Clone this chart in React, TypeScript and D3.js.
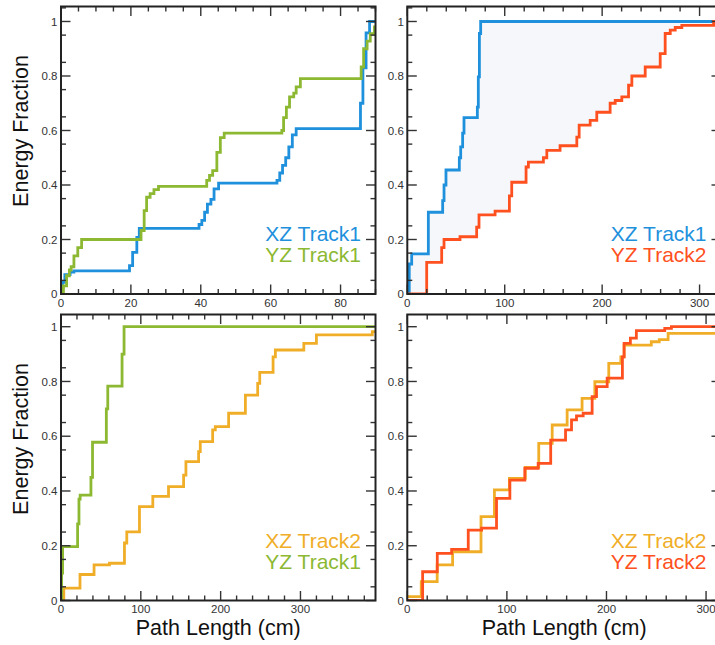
import React from "react";
import * as d3 from "d3";

const FONT = '"Liberation Sans", Arial, Helvetica, sans-serif';

const BLUE = "#1e90dc";
const GREEN = "#8cb832";
const RED = "#ff5020";
const ORANGE = "#f0ae28";
const BAND = "#f5f7fa";

// Cumulative energy fraction vs. path length (cm), step series
const tlXZ1Len = [0, 0.4, 1.1, 2.6, 3.7, 19.6, 20.5, 21.7, 22.4, 39.5, 40.3, 41.1, 41.9, 42.9, 43.8, 45.1, 61.8, 62.6, 63.4, 64.3, 65.2, 66.2, 67.3, 85.7, 86.4, 87.3, 88.3, 90];
const tlXZ1Frac = [0, 0.043, 0.071, 0.08, 0.085, 0.104, 0.153, 0.208, 0.241, 0.255, 0.27, 0.3, 0.33, 0.347, 0.386, 0.407, 0.417, 0.444, 0.472, 0.5, 0.54, 0.584, 0.607, 0.7, 0.83, 0.958, 1.0, 1.0];

const tlYZ1Len = [0, 0.7, 1.6, 2.4, 2.9, 3.7, 4.8, 5.9, 22.9, 23.8, 24.5, 25.5, 26.6, 27.9, 41.7, 42.5, 43.4, 44.6, 45.6, 46.7, 63.2, 63.7, 64.5, 65.4, 66.6, 67.3, 68.5, 85.9, 86.6, 87.6, 88.5, 89.7, 90];
const tlYZ1Frac = [0, 0.03, 0.067, 0.088, 0.1, 0.14, 0.17, 0.2, 0.233, 0.306, 0.355, 0.368, 0.383, 0.395, 0.417, 0.435, 0.453, 0.52, 0.574, 0.59, 0.6, 0.647, 0.686, 0.723, 0.737, 0.76, 0.79, 0.833, 0.9, 0.928, 0.955, 0.98, 0.98];

const trXZ1Len = [0, 2, 4.5, 21.6, 36.3, 37.7, 39.7, 53.4, 54.8, 56.8, 58.2, 71.9, 72.9, 74, 75.3, 322];
const trXZ1Frac = [0, 0.11, 0.147, 0.3, 0.343, 0.4, 0.455, 0.5, 0.54, 0.59, 0.647, 0.686, 0.797, 0.956, 1.0, 1.0];

const trYZ2Len = [0, 19.9, 35.3, 37.7, 54.1, 71.2, 73.6, 90.1, 104.8, 107.2, 121.9, 124.3, 139.7, 143.2, 156.8, 174, 176.4, 187.7, 194.5, 208.2, 213.4, 220.2, 227.1, 230.5, 244.2, 259.6, 264.7, 269.9, 275, 281.8, 314.4, 322];
const trYZ2Frac = [0, 0.116, 0.17, 0.2, 0.21, 0.245, 0.29, 0.304, 0.36, 0.41, 0.466, 0.484, 0.5, 0.527, 0.544, 0.576, 0.62, 0.637, 0.667, 0.7, 0.71, 0.723, 0.766, 0.8, 0.833, 0.882, 0.956, 0.968, 0.978, 0.986, 1.0, 1.0];

const blXZ2Len = [0, 3.5, 23.8, 41.4, 60.7, 79.5, 82.4, 98.3, 115, 134.7, 153.6, 156.5, 172.4, 174.5, 190, 193.3, 210, 231, 246.4, 249, 265.7, 268.6, 304.2, 320, 390, 395];
const blXZ2Frac = [0, 0.045, 0.095, 0.13, 0.136, 0.21, 0.251, 0.343, 0.38, 0.416, 0.458, 0.507, 0.544, 0.58, 0.623, 0.635, 0.684, 0.75, 0.793, 0.833, 0.89, 0.915, 0.939, 0.97, 0.982, 0.982];

const blYZ1Len = [0, 0.8, 2, 20.8, 22.5, 24, 37.5, 39.5, 56.8, 58.6, 76.5, 79, 395];
const blYZ1Frac = [0, 0.1, 0.197, 0.28, 0.37, 0.385, 0.45, 0.578, 0.7, 0.783, 0.9, 1.0, 1.0];

const brXZ2Len = [0, 14, 30, 45.5, 74, 87.5, 102.5, 118.5, 132, 145.5, 160.5, 175.5, 188.3, 202.3, 214.4, 217.7, 245, 253, 261.9, 315];
const brXZ2Frac = [0.014, 0.069, 0.13, 0.178, 0.306, 0.404, 0.446, 0.486, 0.574, 0.641, 0.696, 0.738, 0.799, 0.866, 0.89, 0.933, 0.945, 0.953, 0.976, 0.976];

const brYZ2Len = [0, 15.4, 30.1, 44.5, 61.2, 74.6, 89.6, 103, 118, 131.4, 144, 158.9, 164.9, 169.9, 176.6, 185.6, 190, 200.7, 216, 217.7, 224, 230, 258.5, 265.2, 315];
const brYZ2Frac = [0, 0.105, 0.172, 0.187, 0.257, 0.264, 0.373, 0.44, 0.483, 0.501, 0.586, 0.623, 0.66, 0.674, 0.684, 0.745, 0.781, 0.812, 0.89, 0.939, 0.958, 0.986, 0.994, 1.0, 1.0];

const yTickValues = [0, 0.2, 0.4, 0.6, 0.8, 1];
const yTickLabels = ["0", "0.2", "0.4", "0.6", "0.8", "1"];

type Series = { name: string; color: string; len: number[]; frac: number[] };

type PanelSpec = {
  id: string;
  x0: number; x1: number; y0: number; y1: number;
  xMax: number; yMax: number;
  xMajor: number; xMinor: number;
  series: Series[];
  legend: Series[];
  band?: [Series, Series];
  showXTitle: boolean;
};

const COL_L: [number, number] = [61, 375.5];
const COL_R: [number, number] = [407.3, 721];
const ROW_T: [number, number] = [6.5, 294];
const ROW_B: [number, number] = [314.5, 600.5];

const sXZ1a: Series = { name: "XZ Track1", color: BLUE, len: tlXZ1Len, frac: tlXZ1Frac };
const sYZ1a: Series = { name: "YZ Track1", color: GREEN, len: tlYZ1Len, frac: tlYZ1Frac };
const sXZ1b: Series = { name: "XZ Track1", color: BLUE, len: trXZ1Len, frac: trXZ1Frac };
const sYZ2b: Series = { name: "YZ Track2", color: RED, len: trYZ2Len, frac: trYZ2Frac };
const sXZ2c: Series = { name: "XZ Track2", color: ORANGE, len: blXZ2Len, frac: blXZ2Frac };
const sYZ1c: Series = { name: "YZ Track1", color: GREEN, len: blYZ1Len, frac: blYZ1Frac };
const sXZ2d: Series = { name: "XZ Track2", color: ORANGE, len: brXZ2Len, frac: brXZ2Frac };
const sYZ2d: Series = { name: "YZ Track2", color: RED, len: brYZ2Len, frac: brYZ2Frac };

const panels: PanelSpec[] = [
  { id: "tl", x0: COL_L[0], x1: COL_L[1], y0: ROW_T[0], y1: ROW_T[1], xMax: 90, yMax: 1.055, xMajor: 20, xMinor: 5,
    series: [sXZ1a, sYZ1a], legend: [sXZ1a, sYZ1a], showXTitle: false },
  { id: "tr", x0: COL_R[0], x1: COL_R[1], y0: ROW_T[0], y1: ROW_T[1], xMax: 322, yMax: 1.055, xMajor: 100, xMinor: 20,
    series: [sXZ1b, sYZ2b], legend: [sXZ1b, sYZ2b], band: [sXZ1b, sYZ2b], showXTitle: false },
  { id: "bl", x0: COL_L[0], x1: COL_L[1], y0: ROW_B[0], y1: ROW_B[1], xMax: 394, yMax: 1.0446, xMajor: 100, xMinor: 20,
    series: [sXZ2c, sYZ1c], legend: [sXZ2c, sYZ1c], showXTitle: true },
  { id: "br", x0: COL_R[0], x1: COL_R[1], y0: ROW_B[0], y1: ROW_B[1], xMax: 315, yMax: 1.0446, xMajor: 100, xMinor: 20,
    series: [sXZ2d, sYZ2d], legend: [sXZ2d, sYZ2d], showXTitle: true },
];

function stepVertices(s: Series): [number, number][] {
  const out: [number, number][] = [];
  for (let i = 0; i < s.len.length; i++) {
    if (i > 0) out.push([s.len[i], s.frac[i - 1]]);
    out.push([s.len[i], s.frac[i]]);
  }
  return out;
}

function Panel({ p }: { p: PanelSpec }) {
  const x = d3.scaleLinear().domain([0, p.xMax]).range([p.x0, p.x1]);
  const y = d3.scaleLinear().domain([0, p.yMax]).range([p.y1, p.y0]);
  const line = d3.line<[number, number]>().x((d) => x(d[0])).y((d) => y(d[1])).curve(d3.curveStepAfter);
  const poly = d3.line<[number, number]>().x((d) => x(d[0])).y((d) => y(d[1]));

  const xMinorTicks = d3.range(0, p.xMax + 1e-6, p.xMinor).filter((v) => Math.abs(v / p.xMajor - Math.round(v / p.xMajor)) > 1e-6);
  const xMajorTicks = d3.range(0, p.xMax + 1e-6, p.xMajor);
  const yMinorTicks = d3.range(0.05, p.yMax, 0.1);
  const major = 9.5;
  const minor = 5;
  const tickColor = "#333";

  let bandPath: string | null = null;
  if (p.band) {
    const upper = stepVertices(p.band[0]);
    const lower = stepVertices(p.band[1]).reverse();
    bandPath = poly(upper.concat(lower)) + "Z";
  }

  const legendRight = p.x1 - 14.5;
  const cx = (p.x0 + p.x1) / 2;

  return (
    <g>
      <defs>
        <clipPath id={`clip-${p.id}`}>
          <rect x={p.x0} y={p.y0} width={p.x1 - p.x0} height={p.y1 - p.y0} />
        </clipPath>
      </defs>
      <g clipPath={`url(#clip-${p.id})`}>
        {bandPath && <path d={bandPath} fill={BAND} stroke="none" />}
        {p.series.map((s) => (
          <path key={s.name + s.color} d={line(s.len.map((v, i) => [v, s.frac[i]] as [number, number])) || ""}
            fill="none" stroke={s.color} strokeWidth={2.8} strokeLinejoin="miter" />
        ))}
      </g>
      {/* ticks on all four sides, pointing inward */}
      <g stroke={tickColor} strokeWidth={1.4}>
        {xMajorTicks.map((v) => (
          <g key={"xM" + v}>
            <line x1={x(v)} x2={x(v)} y1={p.y1} y2={p.y1 - major} />
            <line x1={x(v)} x2={x(v)} y1={p.y0} y2={p.y0 + major} />
          </g>
        ))}
        {xMinorTicks.map((v) => (
          <g key={"xm" + v}>
            <line x1={x(v)} x2={x(v)} y1={p.y1} y2={p.y1 - minor} />
            <line x1={x(v)} x2={x(v)} y1={p.y0} y2={p.y0 + minor} />
          </g>
        ))}
        {yTickValues.map((v) => (
          <g key={"yM" + v}>
            <line x1={p.x0} x2={p.x0 + major} y1={y(v)} y2={y(v)} />
            <line x1={p.x1} x2={p.x1 - major} y1={y(v)} y2={y(v)} />
          </g>
        ))}
        {yMinorTicks.map((v) => (
          <g key={"ym" + v}>
            <line x1={p.x0} x2={p.x0 + minor} y1={y(v)} y2={y(v)} />
            <line x1={p.x1} x2={p.x1 - minor} y1={y(v)} y2={y(v)} />
          </g>
        ))}
      </g>
      <rect x={p.x0} y={p.y0} width={p.x1 - p.x0} height={p.y1 - p.y0} fill="none" stroke="#222" strokeWidth={2} />
      {/* tick labels */}
      <g fontFamily={FONT} fontSize={11.5} fill="#333">
        {yTickValues.map((v, i) => (
          <text key={"yl" + v} x={p.x0 - 3.5} y={y(v)} dy="0.36em" textAnchor="end">{yTickLabels[i]}</text>
        ))}
        {xMajorTicks.map((v) => (
          <text key={"xl" + v} x={x(v)} y={p.y1 + 12.5} textAnchor="middle">{String(v)}</text>
        ))}
      </g>
      {/* legend */}
      <g fontFamily={FONT} fontSize={21} textAnchor="end">
        {p.legend.map((s, i) => (
          <text key={"lg" + i} x={legendRight} y={p.y1 - 53 + i * 21} fill={s.color}>{s.name}</text>
        ))}
      </g>
      {p.showXTitle && (
        <text x={cx} y={635} textAnchor="middle" fontFamily={FONT} fontSize={21.5} fill="#111">Path Length (cm)</text>
      )}
    </g>
  );
}

export default function App() {
  return (
    <svg width={715} height={645} viewBox="0 0 715 645"
      style={{ position: "absolute", left: 0, top: 0, background: "#fff" }}>
      <rect x={0} y={0} width={715} height={645} fill="#fff" />
      {panels.map((p) => <Panel key={p.id} p={p} />)}
      <text transform={`translate(28,131) rotate(-90)`} textAnchor="middle" fontFamily={FONT} fontSize={21.5} fill="#111">Energy Fraction</text>
      <text transform={`translate(28,439) rotate(-90)`} textAnchor="middle" fontFamily={FONT} fontSize={21.5} fill="#111">Energy Fraction</text>
    </svg>
  );
}
